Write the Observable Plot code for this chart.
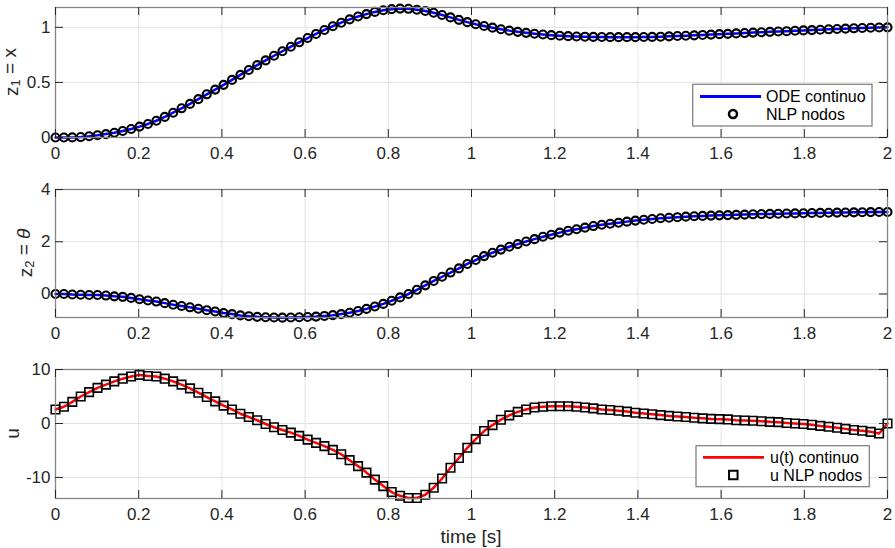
<!DOCTYPE html>
<html><head><meta charset="utf-8">
<script src="https://cdn.jsdelivr.net/npm/d3@7"></script>
<script src="https://cdn.jsdelivr.net/npm/@observablehq/plot@0.6"></script>
<style>
body{margin:0;background:#fff}
#chart{position:relative;width:895px;height:548px;font-family:Arial,"Liberation Sans",sans-serif}
#chart svg{position:absolute;left:0}
</style>
</head><body><div id="chart"></div>
<script>
// State z1 = x at NLP nodes
const z1 = [0, 0, 0.001, 0.004, 0.011, 0.02, 0.031, 0.043, 0.059, 0.077,
 0.099, 0.123, 0.152, 0.187, 0.225, 0.265, 0.305, 0.348, 0.392, 0.435,
 0.478, 0.523, 0.568, 0.613, 0.657, 0.70, 0.742, 0.783, 0.824, 0.864,
 0.903, 0.94, 0.976, 1.01, 1.042, 1.072, 1.098, 1.12, 1.14, 1.155,
 1.165, 1.17, 1.168, 1.16, 1.148, 1.132, 1.112, 1.09, 1.068, 1.047,
 1.028, 1.012, 0.997, 0.983, 0.97, 0.959, 0.95, 0.942, 0.935, 0.929,
 0.924, 0.92, 0.917, 0.915, 0.913, 0.912, 0.911, 0.911, 0.911, 0.911,
 0.912, 0.913, 0.915, 0.918, 0.921, 0.924, 0.927, 0.931, 0.934, 0.938,
 0.941, 0.945, 0.948, 0.952, 0.955, 0.959, 0.962, 0.965, 0.969, 0.972,
 0.975, 0.978, 0.982, 0.985, 0.988, 0.991, 0.994, 0.996, 0.998, 1.0];
// State z2 = theta
const z2 = [0, 0.0, -0.02, -0.03, -0.04, -0.04, -0.06, -0.09, -0.11, -0.15,
 -0.2, -0.25, -0.29, -0.35, -0.41, -0.46, -0.51, -0.565, -0.62, -0.67,
 -0.73, -0.77, -0.82, -0.85, -0.875, -0.89, -0.9, -0.905, -0.9, -0.89,
 -0.88, -0.865, -0.84, -0.81, -0.77, -0.72, -0.65, -0.57, -0.48, -0.38,
 -0.26, -0.13, 0.0, 0.16, 0.33, 0.5, 0.66, 0.82, 0.98, 1.15,
 1.3, 1.45, 1.58, 1.7, 1.81, 1.91, 2.01, 2.1, 2.19, 2.27,
 2.35, 2.42, 2.48, 2.54, 2.6, 2.65, 2.69, 2.73, 2.77, 2.81,
 2.84, 2.87, 2.9, 2.92, 2.94, 2.96, 2.975, 2.99, 3.0, 3.01,
 3.02, 3.03, 3.04, 3.05, 3.06, 3.065, 3.07, 3.08, 3.085, 3.09,
 3.1, 3.105, 3.11, 3.115, 3.12, 3.125, 3.13, 3.135, 3.138, 3.14];
// Control u
const u = [2.6, 3.1, 4.0, 5.0, 5.8, 6.6, 7.2, 7.8, 8.3, 8.7,
 9.0, 8.8, 8.7, 8.3, 7.8, 7.2, 6.5, 5.7, 4.9, 4.1,
 3.3, 2.6, 1.8, 1.2, 0.6, -0.1, -0.7, -1.2, -1.7, -2.3,
 -3.0, -3.6, -4.2, -4.9, -5.7, -6.8, -7.9, -9.1, -10.4, -11.6,
 -12.7, -13.4, -13.8, -13.8, -13.2, -11.9, -10.2, -8.2, -6.4, -4.5,
 -2.9, -1.4, -0.3, 0.7, 1.5, 2.15, 2.6, 2.95, 3.1, 3.2,
 3.2, 3.2, 3.1, 2.95, 2.8, 2.6, 2.5, 2.35, 2.2, 2.0,
 1.85, 1.7, 1.55, 1.4, 1.3, 1.2, 1.05, 0.95, 0.85, 0.8,
 0.75, 0.6, 0.55, 0.5, 0.4, 0.3, 0.25, 0.1, 0.0, -0.1,
 -0.25, -0.45, -0.6, -0.8, -1.0, -1.2, -1.35, -1.55, -1.85, 0.0];

const tFinal = 2;
const xTicks = [0, 0.2, 0.4, 0.6, 0.8, 1, 1.2, 1.4, 1.6, 1.8, 2];
const z1Ticks = [0, 0.5, 1];
const z2Ticks = [0, 2, 4];
const uTicks = [-10, 0, 10];
const legendStates = ["ODE continuo", "NLP nodos"];
const legendControl = ["u(t) continuo", "u NLP nodos"];

const n = z1.length;
const time = d3.range(n).map(i => tFinal * i / (n - 1));

const W = 895, ML = 55, MR = 8;
const chart = document.getElementById("chart");

function panel(cfg) {
  const data = cfg.values.map((v, i) => ({t: time[i], v}));
  const H = cfg.height - cfg.mt - cfg.mb;
  const FW = W - ML - MR;
  const svg = Plot.plot({
    width: W, height: cfg.height,
    marginLeft: ML, marginRight: MR, marginTop: cfg.mt, marginBottom: cfg.mb,
    style: {fontFamily: "Arial, 'Liberation Sans', sans-serif", background: "transparent", overflow: "visible"},
    x: {domain: [0, tFinal], ticks: xTicks},
    y: {domain: cfg.yDomain, ticks: cfg.yTicks},
    marks: [
      Plot.gridX(xTicks, {stroke: "#e3e3e3", strokeOpacity: 1}),
      Plot.gridY(cfg.yTicks, {stroke: "#e3e3e3", strokeOpacity: 1}),
      Plot.line(data, {x: "t", y: "v", stroke: cfg.color, strokeWidth: 2.5}),
      Plot.dot(data, {x: "t", y: "v", symbol: cfg.symbol, r: cfg.r, stroke: "black", fill: "none", strokeWidth: cfg.sw}),
      Plot.frame({stroke: "#858585", strokeWidth: 1.3}),
      Plot.tickX(xTicks, {x: d => d, insetTop: H - 8, stroke: "#262626"}),
      Plot.tickX(xTicks, {x: d => d, insetBottom: H - 8, stroke: "#262626"}),
      Plot.tickY(cfg.yTicks, {y: d => d, insetRight: FW - 8, stroke: "#262626"}),
      Plot.tickY(cfg.yTicks, {y: d => d, insetLeft: FW - 8, stroke: "#262626"}),
      Plot.axisX(xTicks, {tickSize: 0, tickPadding: 9, fontSize: 17, fill: "#262626", label: null, tickFormat: d => String(d)}),
      Plot.axisY(cfg.yTicks, {tickSize: 0, tickPadding: 5, fontSize: 17, fill: "#262626", label: null, tickFormat: d => String(d)})
    ]
  });
  svg.style.top = cfg.top + "px";
  const s = d3.select(svg);
  // y label
  const yl = s.append("text")
    .attr("transform", `translate(${cfg.ylx},${cfg.mt + H / 2}) rotate(-90)`)
    .attr("text-anchor", "middle").attr("dominant-baseline", "central")
    .attr("font-size", 19).attr("fill", "#262626");
  cfg.ylabel(yl);
  // legend
  if (cfg.legend) {
    const L = cfg.legend;
    const g = s.append("g").attr("text-anchor", "start");
    g.append("rect").attr("x", L.x).attr("y", L.y).attr("width", L.w).attr("height", L.h)
      .attr("fill", "white").attr("stroke", "#7a7a7a").attr("stroke-width", 1.2);
    g.append("line").attr("x1", L.lx1).attr("x2", L.lx2).attr("y1", L.r1).attr("y2", L.r1)
      .attr("stroke", cfg.color).attr("stroke-width", 2.8);
    const sym = d3.symbol(cfg.symbol === "circle" ? d3.symbolCircle : d3.symbolSquare, Math.PI * cfg.r * cfg.r);
    g.append("path").attr("d", sym()).attr("transform", `translate(${L.mx},${L.r2})`)
      .attr("fill", "none").attr("stroke", "black").attr("stroke-width", cfg.sw + 0.4);
    L.labels.forEach((txt, i) => {
      g.append("text").attr("x", L.tx).attr("y", i === 0 ? L.r1 : L.r2).attr("text-anchor", "start")
        .attr("dominant-baseline", "central").attr("font-size", 16).attr("fill", "#000").text(txt);
    });
  }
  if (cfg.xlabel) {
    s.append("text").attr("x", ML + FW / 2).attr("y", cfg.height - 12)
      .attr("text-anchor", "middle").attr("dominant-baseline", "central")
      .attr("font-size", 19).attr("fill", "#262626").text(cfg.xlabel);
  }
  chart.appendChild(svg);
}

panel({
  values: z1, yDomain: [0, 1.18], yTicks: z1Ticks, top: 0, height: 170, mt: 7, mb: 33,
  color: "#0000ff", symbol: "circle", r: 4, sw: 2.1, ylx: 11,
  ylabel: t => { t.append("tspan").text("z"); t.append("tspan").attr("font-size", 13).attr("dy", "0.3em").text("1");
                 t.append("tspan").attr("dy", "-0.3em").text(" = x"); },
  legend: {x: 692.7, y: 84.3, w: 179.3, h: 41.7, lx1: 700, lx2: 761, mx: 733, tx: 766, r1: 96.5, r2: 114, labels: legendStates}
});
panel({
  values: z2, yDomain: [-0.9, 4], yTicks: z2Ticks, top: 170, height: 175, mt: 19, mb: 28,
  color: "#0000ff", symbol: "circle", r: 4, sw: 2.1, ylx: 25,
  ylabel: t => { t.append("tspan").text("z"); t.append("tspan").attr("font-size", 13).attr("dy", "0.3em").text("2");
                 t.append("tspan").attr("dy", "-0.3em").text(" = "); t.append("tspan").attr("font-style", "italic").text("θ"); }
});
panel({
  values: u, yDomain: [-13.9, 10], yTicks: uTicks, top: 345, height: 203, mt: 24, mb: 50,
  color: "#ff0000", symbol: "square", r: 4.8, sw: 1.6, ylx: 12.5,
  ylabel: t => { t.text("u"); },
  legend: {x: 696, y: 100.7, w: 173.3, h: 41, lx1: 703, lx2: 764, mx: 733.3, tx: 770, r1: 112.3, r2: 130, labels: legendControl},
  xlabel: "time [s]"
});
</script>
</body></html>
